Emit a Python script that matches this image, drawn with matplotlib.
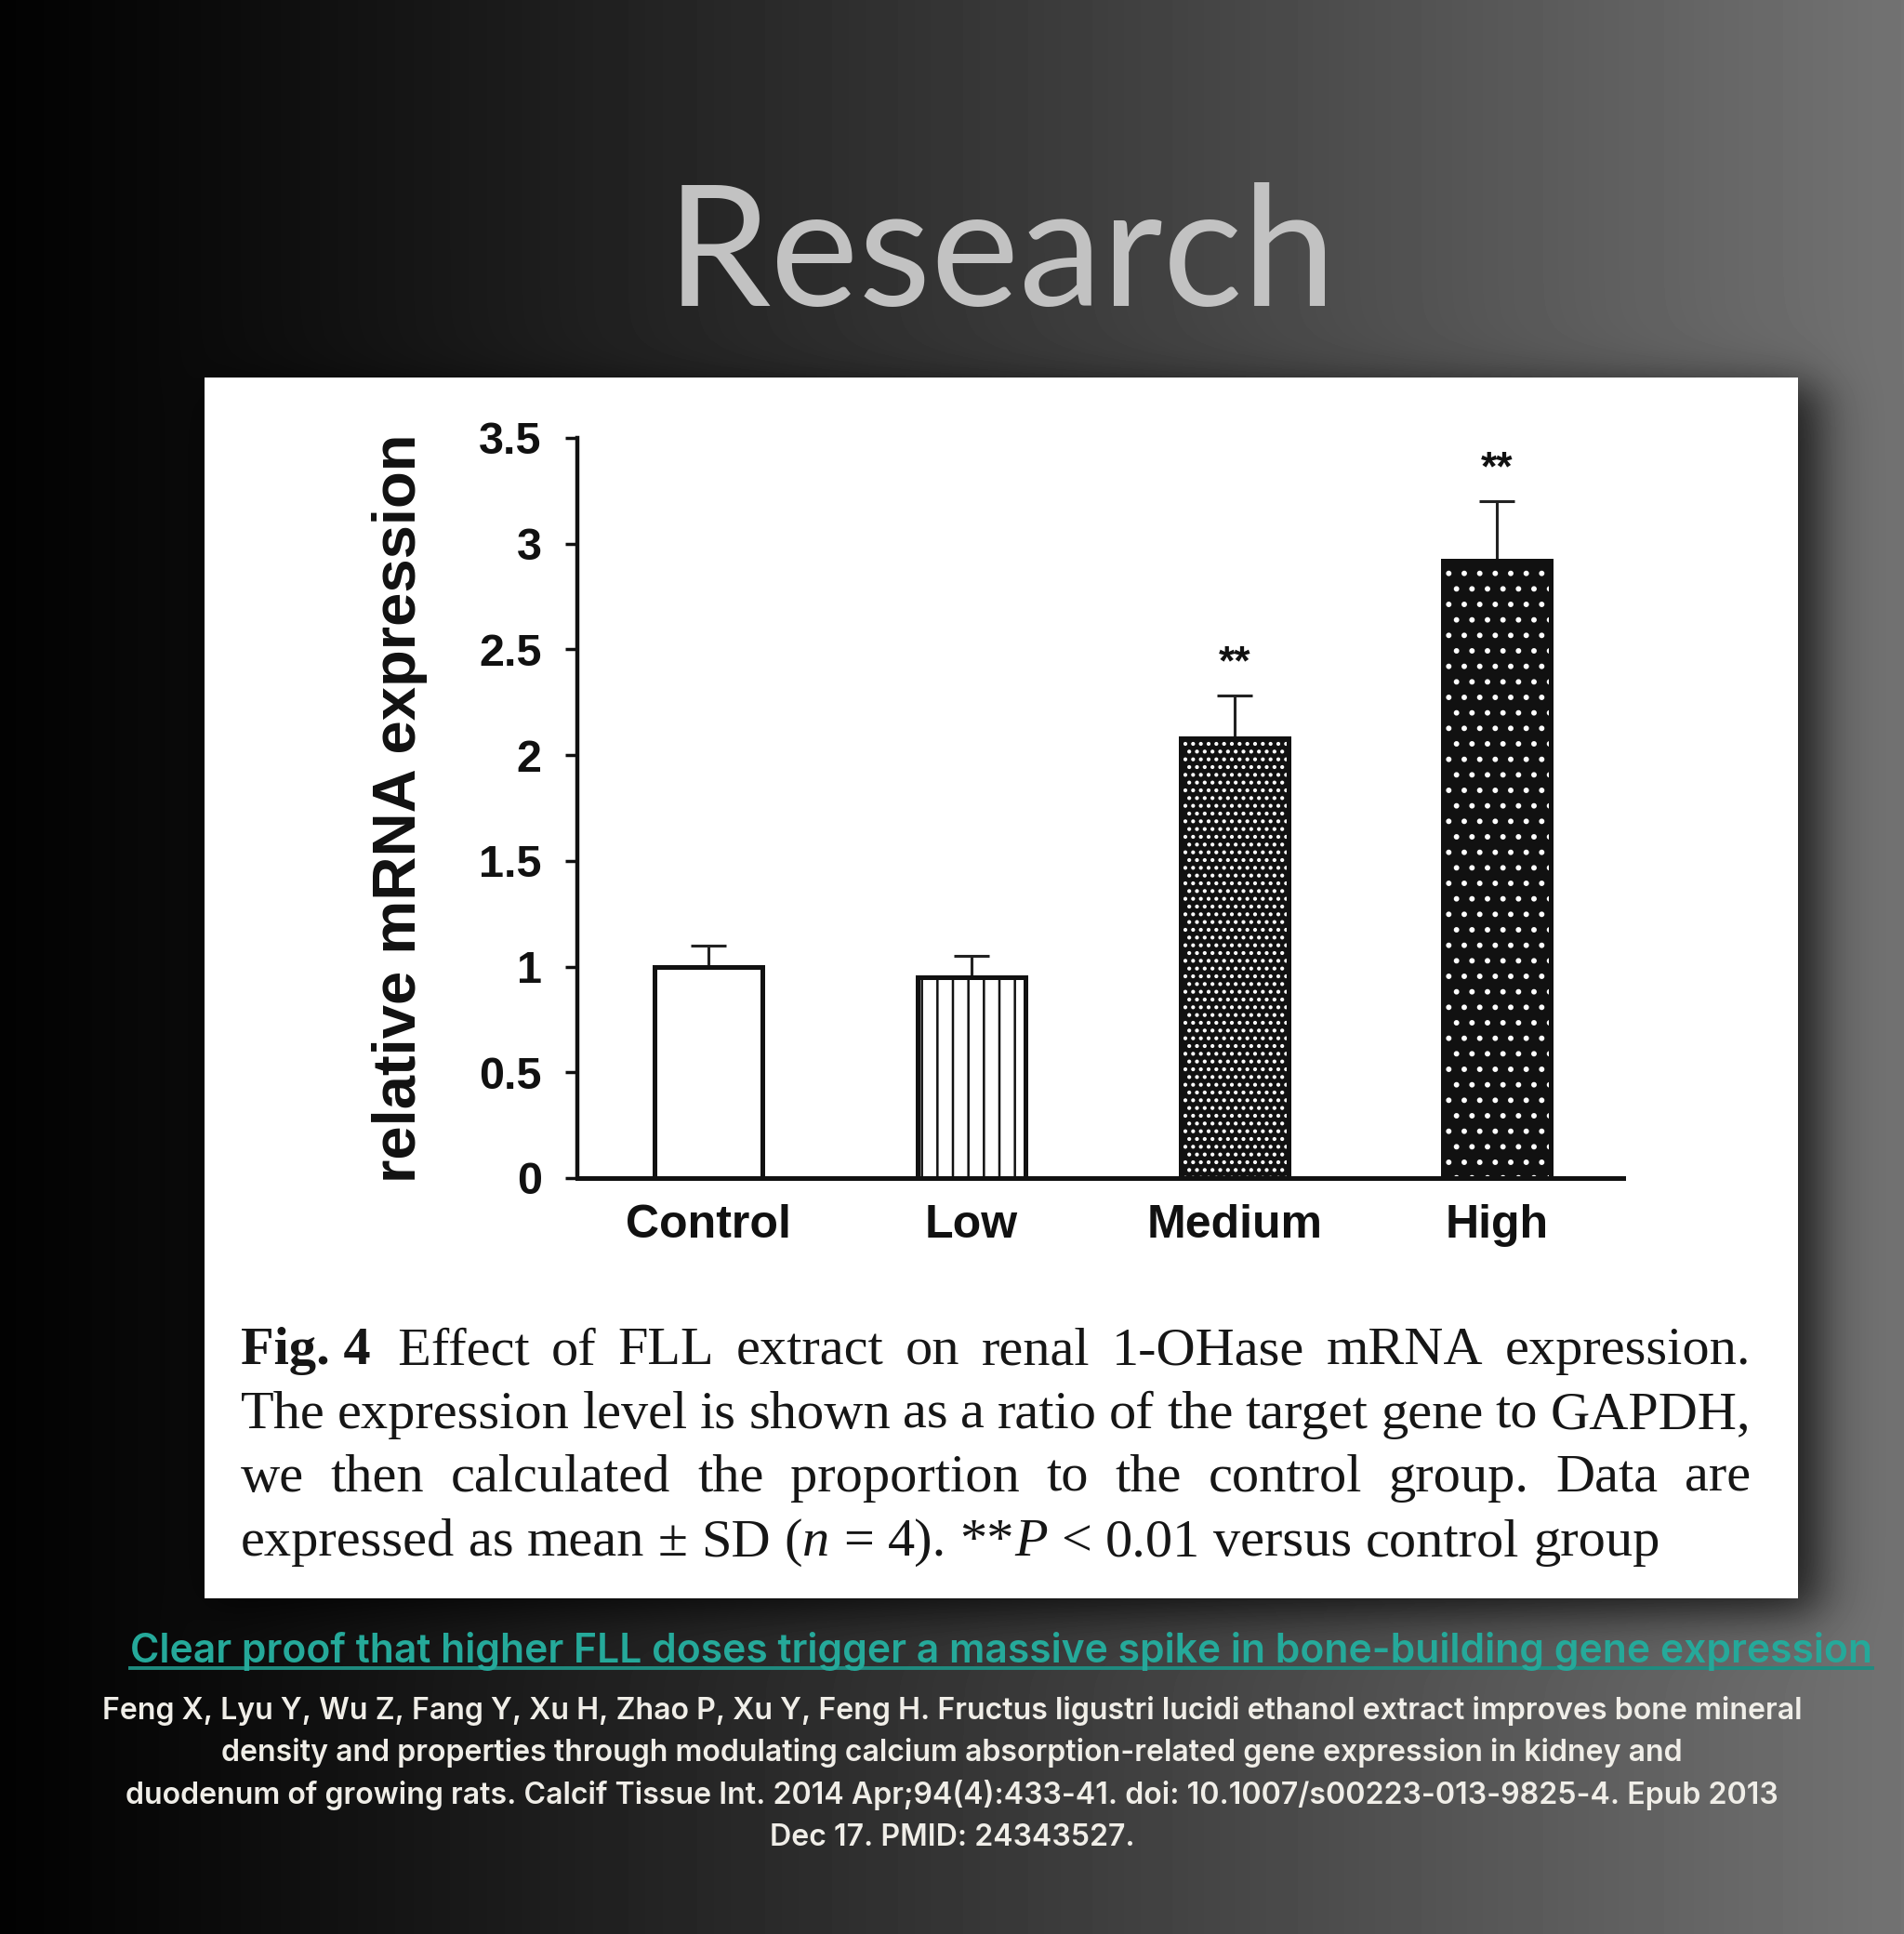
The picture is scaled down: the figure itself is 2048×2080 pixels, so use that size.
import re
import numpy as np
import matplotlib.pyplot as plt
from matplotlib.patches import Rectangle
from matplotlib.lines import Line2D

# =========================
# DATA
# =========================
groups = ["Control", "Low", "Medium", "High"]
means = [1.00, 0.95, 2.08, 2.92]
sds = [0.10, 0.10, 0.20, 0.28]
marks = ["", "", "**", "**"]
yticks = [0, 0.5, 1, 1.5, 2, 2.5, 3, 3.5]
ytick_labels = ["0", "0.5", "1", "1.5", "2", "2.5", "3", "3.5"]
bar_faces = ["white", "white", "#111111", "#111111"]
bar_hatches = [None, "|", "..", "."]
hatch_colors = ["#111111", "#111111", "white", "white"]

title = "Research"
ylabel = "relative mRNA expression"
caption = [
    "[b]Fig.\u00a04[/b]\u2002Effect of FLL extract on renal 1-OHase mRNA expression.",
    "The expression level is shown as a ratio of the target gene to GAPDH,",
    "we then calculated the proportion to the control group. Data are",
    "expressed as mean \u00b1 SD ([i]n[/i] = 4). **[i]P[/i] < 0.01 versus control group",
]
headline = "Clear proof that higher FLL doses trigger a massive spike in bone-building gene expression"
reference = [
    "Feng X, Lyu Y, Wu Z, Fang Y, Xu H, Zhao P, Xu Y, Feng H. Fructus ligustri lucidi ethanol extract improves bone mineral",
    "density and properties through modulating calcium absorption-related gene expression in kidney and",
    "duodenum of growing rats. Calcif Tissue Int. 2014 Apr;94(4):433-41. doi: 10.1007/s00223-013-9825-4. Epub 2013",
    "Dec 17. PMID: 24343527.",
]

# =========================
# FIGURE + BACKGROUND
# =========================
W, H = 2048, 2080
plt.rcParams["hatch.linewidth"] = 1.8
fig = plt.figure(figsize=(W / 100, H / 100), dpi=100)
r = fig.canvas.get_renderer()


def fx(px):
    return px / W


def fy(px):
    return 1 - px / H


panel = (220, 406, 1934, 1719)  # left, top, right, bottom in pixels

xs = np.arange(W)
ys = np.arange(H)
X, Y = np.meshgrid(xs / W, ys / H)
v = 0.01 + 0.44 * X ** 1.15


def soft_box(a, lo, hi, s):
    return 1 / (1 + np.exp(-(a - lo) / s)) * 1 / (1 + np.exp(-(hi - a) / s))


shadow = np.outer(soft_box(ys, panel[1] + 8, panel[3] + 14, 14),
                  soft_box(xs, panel[0] + 6, panel[2] + 22, 16))
v = v * (1 - 0.75 * shadow)

bg = fig.add_axes([0, 0, 1, 1], zorder=-10)
bg.imshow(v, cmap="gray", vmin=0, vmax=1, aspect="auto", interpolation="bilinear")
bg.axis("off")

fig.add_artist(Rectangle((fx(panel[0]), fy(panel[3])), fx(panel[2] - panel[0]),
                         (panel[3] - panel[1]) / H, transform=fig.transFigure,
                         facecolor="white", edgecolor="none", zorder=-5))

# =========================
# BAR CHART
# =========================
ax = fig.add_axes([fx(621), fy(1267), fx(1746 - 621), (1267 - 471) / H])
ax.set_facecolor("none")
x = np.arange(len(groups))
width = 0.41

ax.errorbar(x, means, yerr=[np.zeros(len(means)), sds], fmt="none", ecolor="#222222",
            elinewidth=2.2, capsize=13.5, capthick=2.2, zorder=1)
for i in range(len(groups)):
    ax.bar(x[i], means[i], width=width, color=bar_faces[i], edgecolor=hatch_colors[i],
           hatch=bar_hatches[i], linewidth=0, zorder=2)
ax.bar(x, means, width=width, fill=False, edgecolor="#111111", linewidth=3.6, zorder=3)

for i, m in enumerate(marks):
    if m:
        ax.text(x[i], means[i] + sds[i] + 0.15, m, ha="center", va="center",
                fontsize=32, color="#111111", family="Liberation Sans", fontweight="bold")

ax.set_xlim(-0.5, 3.48)
ax.set_ylim(0, 3.5)
ax.set_yticks(yticks)
ax.set_yticklabels(ytick_labels, fontsize=35, fontweight="bold", family="Liberation Sans")
ax.set_xticks(x)
ax.set_xticklabels(groups, fontsize=36, fontweight="bold", family="Liberation Sans")
ax.tick_params(axis="y", length=9.5, width=2.5, pad=18, colors="#111111")
ax.tick_params(axis="x", length=0, pad=20, colors="#111111")
for side in ["top", "right"]:
    ax.spines[side].set_visible(False)
ax.spines["left"].set_linewidth(3.2)
ax.spines["bottom"].set_linewidth(3.6)
ax.spines["left"].set_color("#111111")
ax.spines["bottom"].set_color("#111111")
ax.set_ylabel(ylabel, fontsize=47, fontweight="bold", family="Liberation Sans", color="#111111")
ax.yaxis.set_label_coords(-0.143, 0.5)

# =========================
# CAPTION (justified)
# =========================
STY = {"n": {}, "b": {"fontweight": "bold"}, "i": {"fontstyle": "italic"}}
cap_x0, cap_x1 = fx(259), fx(1883)
cap_size = 42
cap_base = [1467, 1536, 1604, 1673]


def parse(word):
    return [(m.group(2), m.group(1)) if m.group(1) else (m.group(3), "n")
            for m in re.finditer(r"\[([bi])\](.*?)\[/\1\]|([^\[]+)", word)]


def caption_line(line, y, size, justify):
    placed = []
    for word in line.split(" "):
        row = []
        for s, k in parse(word):
            t = fig.text(0, fy(y), s, fontsize=size, family="Liberation Serif",
                         color="#161616", va="baseline", ha="left", **STY[k])
            row.append((t, t.get_window_extent(r).width / W))
        placed.append(row)
    widths = [sum(w for _, w in row) for row in placed]
    if justify:
        gap = (cap_x1 - cap_x0 - sum(widths)) / (len(placed) - 1)
    else:
        gap = 0.25 * size * 100 / 72 / W
    xx = cap_x0
    for row in placed:
        for t, w in row:
            t.set_x(xx)
            xx += w
        xx += gap


for k, line in enumerate(caption):
    caption_line(line, cap_base[k], cap_size, justify=k < len(caption) - 1)

# =========================
# TITLE + FOOTER TEXT
# =========================
def fit(t, target):
    w = t.get_window_extent(r).width
    t.set_fontsize(t.get_fontsize() * target / w)


t_title = fig.text(fx(1077), fy(329), title, fontsize=120, color="#c2c2c2", ha="center",
                   va="baseline", family=["Lato", "DejaVu Sans"])
fit(t_title, 720)

t_head = fig.text(fx(1077), fy(1788), headline, fontsize=30, color="#25a99a", ha="center",
                  va="baseline", family=["Inter", "DejaVu Sans"], fontweight="semibold")
fit(t_head, 1870)
hb = t_head.get_window_extent(r)
fig.add_artist(Line2D([hb.x0 / W, hb.x1 / W], [fy(1794), fy(1794)], transform=fig.transFigure,
                      color="#1f8c80", linewidth=2.8))

ref_base = [1849, 1894, 1940, 1985]
ref_texts = []
for k, line in enumerate(reference):
    ref_texts.append(fig.text(0.5, fy(ref_base[k]), line, fontsize=22, color="#f0eee8",
                              ha="center", va="baseline", family=["Inter", "DejaVu Sans"],
                              fontweight="semibold"))
scale = 1828 / ref_texts[0].get_window_extent(r).width
for t in ref_texts:
    t.set_fontsize(t.get_fontsize() * scale)

fig.savefig("out.png", dpi=100)
